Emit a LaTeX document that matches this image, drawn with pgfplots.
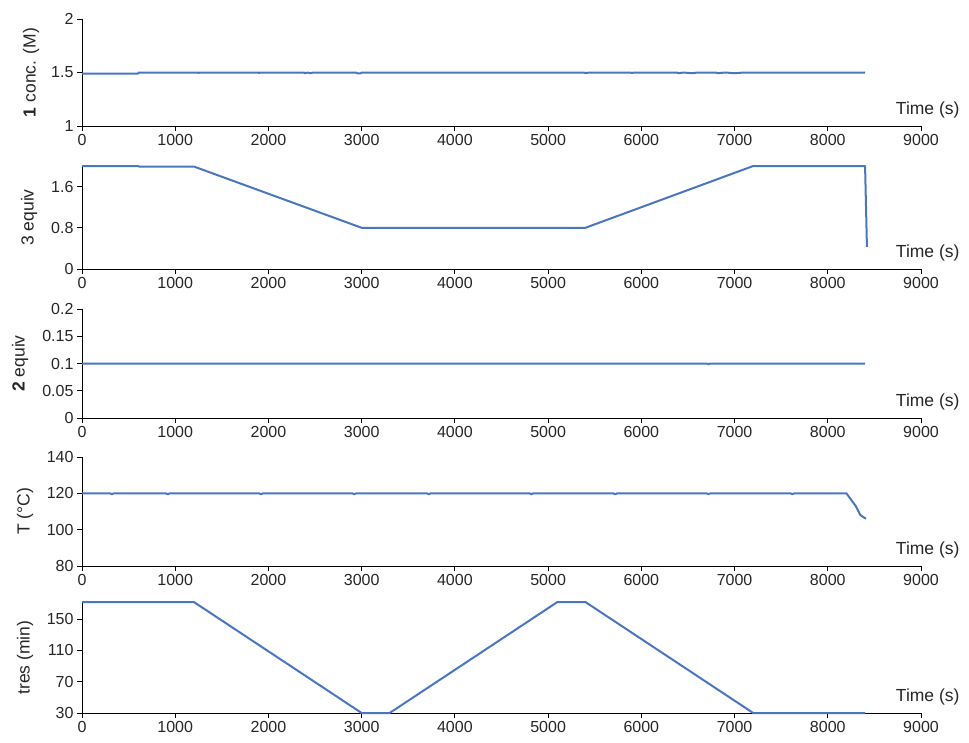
\documentclass[border=0pt]{standalone}
\usepackage{pgfplots}
\pgfplotsset{compat=1.18}
\usepackage{fontspec}
\setmainfont{Liberation Sans}
\definecolor{xlblue}{RGB}{74,118,192}
\pgfplotsset{panel/.style={
  scale only axis, width=839pt, xmin=0, xmax=9000,
  axis lines=left, axis line style={-, black, line width=0.8pt},
  xtick={0,1000,...,9000},
  tick align=outside, major tick length=5pt,
  tick style={black, line width=0.8pt},
  ticklabel style={font=\fontsize{16}{18}\selectfont, text=black!85},
  /pgf/number format/assume math mode=true,
  /pgf/number format/1000 sep={},
  scaled ticks=false,
  clip=false,
  anchor=south west,
  every axis plot/.append style={color=xlblue, line width=2pt, line join=round},
}}
\newcommand{\timelabel}{\node[anchor=east, text=black!85, font=\fontsize{17.5}{19}\selectfont] at ([xshift=42pt,yshift=16pt]rel axis cs:1,0) {Time (s)};}
\begin{document}
\begin{tikzpicture}
\useasboundingbox (0pt,0pt) rectangle (969pt,-742pt);
% panel 1
\begin{axis}[panel, at={(82pt,-126pt)}, height=107pt, ymin=1, ymax=2, ytick={1,1.5,2}, yticklabels={1,1.5,2}]
\addplot[mark=none] coordinates {(0,1.49) (600,1.49) (610,1.5) (1240,1.5) (1250,1.495) (1260,1.5) (1890,1.5) (1900,1.495) (1910,1.5) (2380,1.5) (2390,1.493) (2420,1.5) (2450,1.493) (2480,1.5) (2940,1.5) (2950,1.493) (2990,1.493) (3000,1.5) (5380,1.5) (5400,1.495) (5450,1.5) (5880,1.5) (5900,1.495) (5920,1.5) (6380,1.5) (6400,1.493) (6450,1.5) (6550,1.493) (6600,1.5) (6800,1.5) (6820,1.493) (6900,1.5) (7000,1.493) (7100,1.5) (8400,1.5)};
\node[rotate=90, text=black!85, font=\fontsize{17.5}{19}\selectfont] at ([xshift=-51pt]rel axis cs:0,0.5) {\textbf{1} conc. (M)};
\timelabel
\end{axis}
% panel 2
\begin{axis}[panel, at={(82pt,-269pt)}, height=103pt, ymin=0, ymax=2, ytick={0,0.8,1.6}, yticklabels={0,0.8,1.6}]
\addplot[mark=none] coordinates {(0,2.0) (600,2.0) (610,1.99) (1200,1.99) (3000,0.8) (5400,0.8) (7200,2.0) (8400,2.0) (8420,0.43)};
\node[rotate=90, text=black!85, font=\fontsize{17.5}{19}\selectfont] at ([xshift=-53pt]rel axis cs:0,0.5) {3 equiv};
\timelabel
\end{axis}
% panel 3
\begin{axis}[panel, at={(82pt,-418pt)}, height=109pt, ymin=0, ymax=0.2, ytick={0,0.05,0.1,0.15,0.2}, yticklabels={0,0.05,0.1,0.15,0.2}]
\addplot[mark=none] coordinates {(0,0.1) (6700,0.1) (6720,0.099) (6740,0.1) (8400,0.1)};
\node[rotate=90, text=black!85, font=\fontsize{17.5}{19}\selectfont] at ([xshift=-62pt]rel axis cs:0,0.5) {\textbf{2} equiv};
\timelabel
\end{axis}
% panel 4
\begin{axis}[panel, at={(82pt,-566pt)}, height=109pt, ymin=80, ymax=140, ytick={80,100,120,140}]
\addplot[mark=none] coordinates {(0,120) (300,120) (320,119.5) (340,120) (900,120) (920,119.5) (940,120) (1900,120) (1920,119.5) (1940,120) (2900,120) (2920,119.5) (2940,120) (3700,120) (3720,119.5) (3740,120) (4800,120) (4820,119.5) (4840,120) (5700,120) (5720,119.5) (5740,120) (6700,120) (6720,119.5) (6740,120) (7600,120) (7620,119.5) (7640,120) (8200,120) (8300,113) (8350,108) (8410,106)};
\node[rotate=90, text=black!85, font=\fontsize{17.5}{19}\selectfont] at ([xshift=-57pt]rel axis cs:0,0.5) {T (°C)};
\timelabel
\end{axis}
% panel 5
\begin{axis}[panel, at={(82pt,-713pt)}, height=111pt, ymin=30, ymax=172, ytick={30,70,110,150}]
\addplot[mark=none] coordinates {(0,172) (1200,172) (3000,30) (3300,30) (5100,172) (5400,172) (7200,30) (8400,30)};
\node[rotate=90, text=black!85, font=\fontsize{17.5}{19}\selectfont] at ([xshift=-57pt]rel axis cs:0,0.5) {tres (min)};
\timelabel
\end{axis}
\end{tikzpicture}
\end{document}
